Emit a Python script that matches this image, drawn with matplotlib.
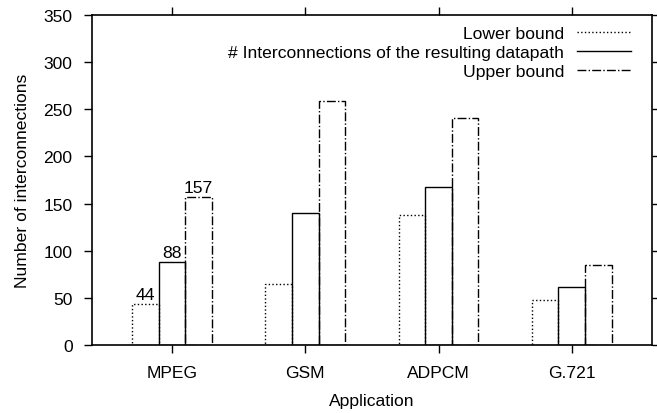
import matplotlib
matplotlib.use('Agg')
import matplotlib.pyplot as plt
from matplotlib.lines import Line2D
import numpy as np

apps = ['MPEG', 'GSM', 'ADPCM', 'G.721']
lower = [44, 65, 138, 48]
actual = [88, 140, 168, 62]
upper = [157, 259, 241, 85]
labels = ['Lower bound', '# Interconnections of the resulting datapath', 'Upper bound']
styles = [':', '-', '-.']

plt.rcParams['font.family'] = ['Liberation Sans', 'DejaVu Sans']
plt.rcParams['font.size'] = 12.6

fig = plt.figure(figsize=(6.57, 4.14), dpi=100)
ax = fig.add_axes([0.140, 0.164, 0.852, 0.798])

x = np.arange(len(apps))
w = 0.2
for i, (vals, ls) in enumerate(zip([lower, actual, upper], styles)):
    ax.bar(x + (i - 1) * w, vals, w, fill=False, edgecolor='black',
           linestyle=ls, linewidth=1.0)

# value labels for MPEG
for i, v in enumerate([lower[0], actual[0], upper[0]]):
    ax.text(x[0] + (i - 1) * w, v + 2, str(v), ha='center', va='bottom')

ax.set_xlim(-0.6, 3.6)
ax.set_ylim(0, 350)
ax.set_yticks(range(0, 351, 50))
ax.set_xticks(x)
ax.set_xticklabels(apps)
ax.tick_params(direction='out', top=True, right=True, length=6, width=1, pad=8)
ax.set_xlabel('Application', labelpad=10)
ax.set_ylabel('Number of interconnections', labelpad=10)
for s in ax.spines.values():
    s.set_linewidth(1.2)

handles = [Line2D([], [], color='black', linestyle=ls, linewidth=1.0) for ls in styles]
ax.legend(handles, labels, loc='upper right', bbox_to_anchor=(0.9625, 0.966),
          frameon=False, markerfirst=False, borderaxespad=0, borderpad=0,
          handlelength=3.1, labelspacing=0.22, handletextpad=0.7)

fig.savefig('out.png', dpi=100)
